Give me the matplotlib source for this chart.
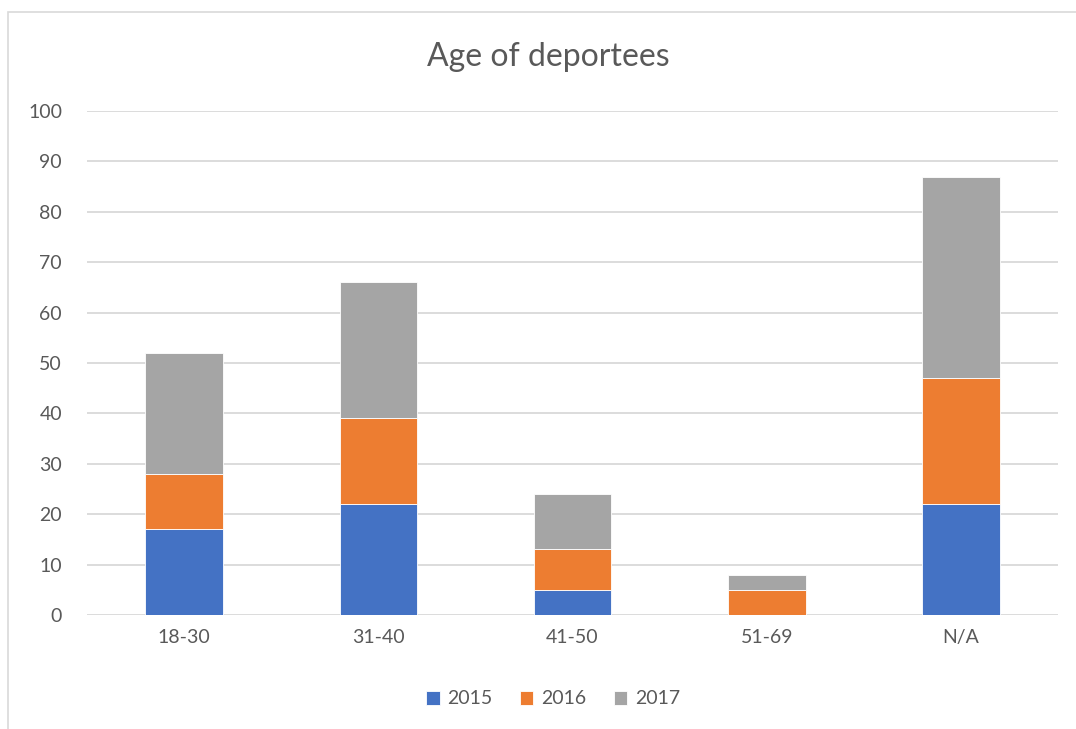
import matplotlib.pyplot as plt
from matplotlib.patches import Rectangle

categories = ["18-30", "31-40", "41-50", "51-69", "N/A"]
years = ["2015", "2016", "2017"]
v2015 = [17, 22, 5, 0, 22]
v2016 = [11, 17, 8, 5, 25]
v2017 = [24, 27, 11, 3, 40]
colors = ["#4472C4", "#ED7D31", "#A5A5A5"]

plt.rcParams['font.family'] = ['Lato', 'DejaVu Sans']
text_col = "#595959"

fig = plt.figure(figsize=(10.76, 7.29), dpi=100)
ax = fig.add_axes([0.0809, 0.1564, 0.9024, 0.6913])

# outer chart frame
fig.patches.append(Rectangle((8 / 1076, -0.01), 1.0, 1 - 12 / 729 + 0.01,
                             transform=fig.transFigure, fill=False,
                             edgecolor="#d9d9d9", lw=1.2))

x = range(len(categories))
bottom = [0] * len(categories)
for year, vals, c in zip(years, [v2015, v2016, v2017], colors):
    ax.bar(x, vals, width=0.4, bottom=bottom, color=c, label=year,
           edgecolor="white", linewidth=0.6, zorder=3)
    bottom = [b + v for b, v in zip(bottom, vals)]

ax.set_xlim(-0.5, len(categories) - 0.5)
ax.set_ylim(0, 100)
ax.set_yticks(range(0, 101, 10))
ax.set_xticks(list(x))
ax.set_xticklabels(categories)
ax.grid(axis="y", color="#d9d9d9", lw=1.3, zorder=0)
ax.tick_params(length=0, labelsize=14, colors=text_col, pad=10)
ax.tick_params(axis="y", pad=18)
for s in ax.spines.values():
    s.set_visible(False)

fig.text(548 / 1076, 1 - 57 / 729, "Age of deportees",
         ha="center", va="center", fontsize=23, color=text_col)

ax.legend(loc="center", bbox_to_anchor=(553 / 1076, (729 - 699) / 729), bbox_transform=fig.transFigure,
          ncol=3, frameon=False, fontsize=14, labelcolor=text_col,
          handlelength=0.7, handleheight=0.7, handletextpad=0.4, columnspacing=1.4)

fig.savefig("out.png", dpi=100)
